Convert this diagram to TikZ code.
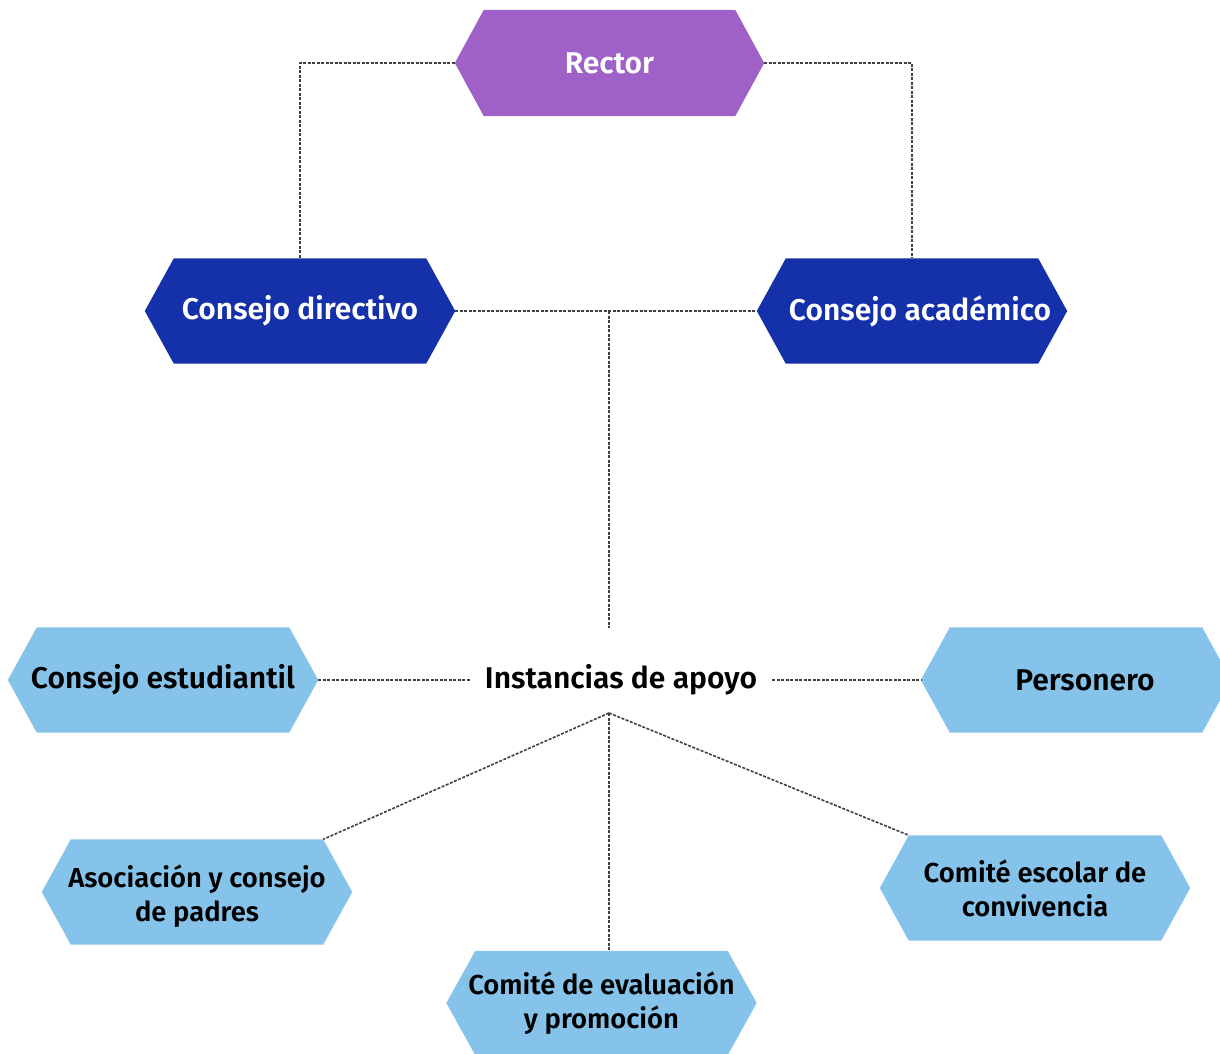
\documentclass[tikz,border=0pt]{standalone}
\usepackage{fontspec}
\setmainfont{Fira Sans}[BoldFont={* SemiBold}]
\usetikzlibrary{backgrounds,calc}
\definecolor{cpurple}{HTML}{9F61C7}
\definecolor{cdark}{HTML}{1531A9}
\definecolor{clight}{HTML}{85C3EA}
\definecolor{clink}{HTML}{404040}
\tikzset{
  hexbox/.style={minimum height=105pt, minimum width=310pt, inner sep=0pt, align=center,
     font=\fontsize{30}{34}\selectfont\bfseries},
  topbox/.style={hexbox, text=white},
  lowbox/.style={hexbox, text=black},
  twoline/.style={font=\fontsize{27.4}{34}\selectfont\bfseries},
  link/.style={draw=clink, line width=1.6pt, dash pattern=on 3pt off 1.5pt},
}
\newcommand\hexfill[2]{%
  \begin{scope}[on background layer]
    \fill[#2] (#1.west) -- ([xshift=29pt]#1.north west) -- ([xshift=-29pt]#1.north east)
      -- (#1.east) -- ([xshift=-29pt]#1.south east) -- ([xshift=29pt]#1.south west) -- cycle;
  \end{scope}}
\begin{document}
\begin{tikzpicture}[x=1pt,y=-1pt]
  \useasboundingbox (0,0) rectangle (1220,1053);
  \clip (0,0) rectangle (1220,1053);
  \node[topbox, minimum width=309pt, minimum height=106pt] (rector) at (609.5,63) {Rector};
  \hexfill{rector}{cpurple}
  \node[topbox] (cd) at (300,311) {Consejo directivo};
  \hexfill{cd}{cdark}
  \node[topbox] (ca) at (912,311) {\hspace*{16pt}Consejo académico};
  \hexfill{ca}{cdark}
  \node[lowbox] (ce) at (163,680) {Consejo estudiantil};
  \hexfill{ce}{clight}
  \node[lowbox, text width=300pt] (pe) at (1076,680) {\hspace*{18pt}Personero};
  \hexfill{pe}{clight}
  \node[lowbox, twoline] (aso) at (197,892) {\\[-4pt]Asociación y consejo\\de padres};
  \hexfill{aso}{clight}
  \node[lowbox, twoline] (ces) at (1035,888) {Comité escolar de\\convivencia};
  \hexfill{ces}{clight}
  \node[lowbox, twoline, minimum height=104pt] (cev) at (601.5,1003) {Comité de evaluación\\y promoción};
  \hexfill{cev}{clight}
  \node[font=\fontsize{30}{34}\selectfont\bfseries, inner xsep=15pt, inner ysep=2pt] (inst) at (621,680) {Instancias de apoyo};

  \draw[link] (rector.west) -| (cd.north);
  \draw[link] (rector.east) -| (ca.north);
  \draw[link] (cd.east) -- (ca.west);
  \coordinate (junc) at (609,311);
  \coordinate (insttop) at (609,628);
  \draw[link] (junc) -- (insttop);
  \draw[link] (ce.east) -- (inst.west);
  \draw[link] (inst.east) -- (pe.west);
  \coordinate (hub) at (609,713);
  \draw[link] (hub) -- ([xshift=-29pt]aso.north east);
  \draw[link] (hub) -- (hub |- cev.north);
  \draw[link] (hub) -- ([xshift=29pt]ces.north west);
\end{tikzpicture}
\end{document}
